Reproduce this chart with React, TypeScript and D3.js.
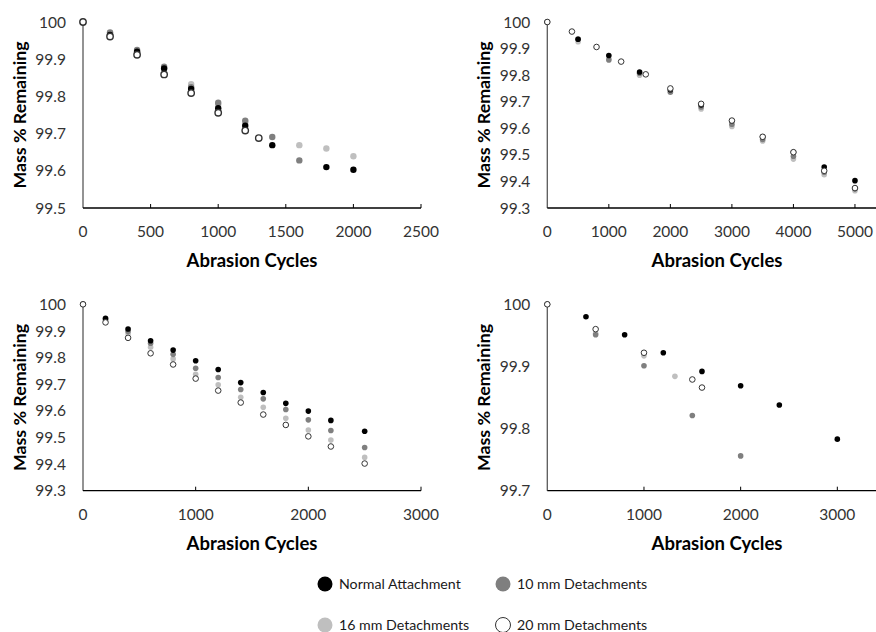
import React from "react";
import * as d3 from "d3";

// ---------- DATA ----------
const seriesNames = ["Normal Attachment", "10 mm Detachments", "16 mm Detachments", "20 mm Detachments"];

// Panel A (top-left)
const aNormal: [number, number][] = [[0, 100], [200, 99.965], [400, 99.92], [600, 99.875], [800, 99.82], [1000, 99.768], [1200, 99.721], [1400, 99.669], [1800, 99.61], [2000, 99.603]];
const a10: [number, number][] = [[0, 100], [200, 99.972], [400, 99.925], [600, 99.88], [800, 99.825], [1000, 99.783], [1200, 99.735], [1400, 99.691], [1600, 99.628]];
const a16: [number, number][] = [[0, 100], [200, 99.97], [400, 99.922], [600, 99.876], [800, 99.833], [1000, 99.778], [1200, 99.73], [1600, 99.669], [1800, 99.66], [2000, 99.639]];
const a20: [number, number][] = [[0, 100], [200, 99.961], [400, 99.912], [600, 99.859], [800, 99.809], [1000, 99.756], [1200, 99.708], [1300, 99.688]];

// Panel B (top-right)
const bNormal: [number, number][] = [[0, 100], [500, 99.935], [1000, 99.874], [1500, 99.812], [2000, 99.745], [2500, 99.688], [3000, 99.628], [3500, 99.568], [4000, 99.51], [4500, 99.454], [5000, 99.403]];
const b10: [number, number][] = [[0, 100], [500, 99.936], [1000, 99.857], [1500, 99.807], [2000, 99.736], [2500, 99.68], [3000, 99.615], [3500, 99.558], [4000, 99.495], [4500, 99.435], [5000, 99.372]];
const b16: [number, number][] = [[0, 100], [500, 99.926], [1000, 99.862], [1500, 99.8], [2000, 99.74], [2500, 99.673], [3000, 99.607], [3500, 99.552], [4000, 99.484], [4500, 99.425], [5000, 99.365]];
const b20: [number, number][] = [[0, 100], [400, 99.964], [800, 99.906], [1200, 99.851], [1600, 99.803], [2000, 99.75], [2500, 99.692], [3000, 99.629], [3500, 99.568], [4000, 99.51], [4500, 99.44], [5000, 99.375]];

// Panel C (bottom-left)
const cNormal: [number, number][] = [[0, 100], [200, 99.947], [400, 99.907], [600, 99.863], [800, 99.828], [1000, 99.788], [1200, 99.755], [1400, 99.706], [1600, 99.669], [1800, 99.628], [2000, 99.599], [2200, 99.564], [2500, 99.523]];
const c10: [number, number][] = [[0, 100], [200, 99.945], [400, 99.899], [600, 99.854], [800, 99.812], [1000, 99.76], [1200, 99.725], [1400, 99.68], [1600, 99.645], [1800, 99.605], [2000, 99.566], [2200, 99.526], [2500, 99.462]];
const c16: [number, number][] = [[0, 100], [200, 99.94], [400, 99.889], [600, 99.839], [800, 99.795], [1000, 99.737], [1200, 99.698], [1400, 99.651], [1600, 99.613], [1800, 99.572], [2000, 99.528], [2200, 99.49], [2500, 99.425]];
const c20: [number, number][] = [[0, 100], [200, 99.932], [400, 99.874], [600, 99.816], [800, 99.774], [1000, 99.721], [1200, 99.676], [1400, 99.631], [1600, 99.586], [1800, 99.547], [2000, 99.504], [2200, 99.466], [2500, 99.402]];

// Panel D (bottom-right)
const dNormal: [number, number][] = [[0, 100], [400, 99.98], [800, 99.951], [1200, 99.922], [1600, 99.892], [2000, 99.869], [2400, 99.838], [3000, 99.783]];
const d10: [number, number][] = [[0, 100], [500, 99.951], [1000, 99.901], [1500, 99.821], [2000, 99.756]];
const d16: [number, number][] = [[0, 100], [500, 99.953], [1000, 99.917], [1320, 99.884]];
const d20: [number, number][] = [[0, 100], [500, 99.96], [1000, 99.922], [1500, 99.879], [1600, 99.866]];

const aXTicks = [0, 500, 1000, 1500, 2000, 2500];
const aYTicks = [99.5, 99.6, 99.7, 99.8, 99.9, 100];
const bXTicks = [0, 1000, 2000, 3000, 4000, 5000];
const bYTicks = [99.3, 99.4, 99.5, 99.6, 99.7, 99.8, 99.9, 100];
const cXTicks = [0, 1000, 2000, 3000];
const cYTicks = [99.3, 99.4, 99.5, 99.6, 99.7, 99.8, 99.9, 100];
const dXTicks = [0, 1000, 2000, 3000];
const dYTicks = [99.7, 99.8, 99.9, 100];

const xTitle = "Abrasion Cycles";
const yTitle = "Mass % Remaining";

// ---------- STYLES ----------
const fills = ["#000000", "#7f7f7f", "#bfbfbf", "#ffffff"];
const strokes = ["#000000", "#7f7f7f", "#bfbfbf", "#333333"];
const drawOrder = [2, 1, 0, 3];
const FONT = "Lato, 'Open Sans', sans-serif";

type Panel = {
  series: [number, number][][];
  xDomain: [number, number];
  xRange: [number, number];
  yDomain: [number, number];
  yRange: [number, number];
  xTicks: number[];
  yTicks: number[];
  r: number;
  openStroke: number;
  yTitleX: number;
  xTitleX: number;
};

const panels: Panel[] = [
  { series: [aNormal, a10, a16, a20], xDomain: [0, 2500], xRange: [83, 421], yDomain: [99.5, 100], yRange: [208, 22], xTicks: aXTicks, yTicks: aYTicks, r: 3.2, openStroke: 1.4, yTitleX: 20, xTitleX: 252 },
  { series: [bNormal, b10, b16, b20], xDomain: [0, 6000], xRange: [547.3, 916.5], yDomain: [99.3, 100], yRange: [208, 22], xTicks: bXTicks, yTicks: bYTicks, r: 2.8, openStroke: 1, yTitleX: 484, xTitleX: 717 },
  { series: [cNormal, c10, c16, c20], xDomain: [0, 3000], xRange: [83, 421], yDomain: [99.3, 100], yRange: [490.7, 304.3], xTicks: cXTicks, yTicks: cYTicks, r: 2.8, openStroke: 1, yTitleX: 20, xTitleX: 252 },
  { series: [dNormal, d10, d16, d20], xDomain: [0, 4000], xRange: [547.3, 934], yDomain: [99.7, 100], yRange: [490.7, 304.3], xTicks: dXTicks, yTicks: dYTicks, r: 2.8, openStroke: 1, yTitleX: 484, xTitleX: 717 },
];

const fmtY = (v: number) => (v === 100 ? "100" : d3.format(".1f")(v));

function PanelView({ p }: { p: Panel }) {
  const x = d3.scaleLinear().domain(p.xDomain).range(p.xRange);
  const y = d3.scaleLinear().domain(p.yDomain).range(p.yRange);
  const x0 = p.xRange[0];
  const yBottom = p.yRange[0];
  const yTop = p.yRange[1];
  const labelX = x0 - 17;
  const plotMidY = (yTop + yBottom) / 2;
  return (
    <g>
      <line x1={x0} x2={x0} y1={yTop} y2={yBottom} stroke="#595959" strokeWidth={1.3} />
      <line x1={x0} x2={p.xRange[1]} y1={yBottom} y2={yBottom} stroke="#000" strokeWidth={1.3} />
      {p.xTicks.map((t) => (
        <g key={t}>
          {t !== 0 && <line x1={x(t)} x2={x(t)} y1={yBottom} y2={yBottom - 4} stroke="#000" strokeWidth={1} />}
          <text x={x(t)} y={yBottom + 29} textAnchor="middle" fontSize={15.5} fill="#333" fontFamily={FONT}>{t}</text>
        </g>
      ))}
      {p.yTicks.map((t) => (
        <text key={t} x={labelX} y={y(t)} dy="0.36em" textAnchor="end" fontSize={15.5} fill="#333" fontFamily={FONT}>{fmtY(t)}</text>
      ))}
      <text x={p.xTitleX} y={yBottom + 59} textAnchor="middle" fontSize={18.5} fontWeight="bold" fill="#000" fontFamily={FONT}>{xTitle}</text>
      <text transform={`translate(${p.yTitleX},${plotMidY}) rotate(-90)`} textAnchor="middle" dy="0.36em" fontSize={17.8} fontWeight="bold" fill="#000" fontFamily={FONT}>{yTitle}</text>
      {drawOrder.map((si) => (
        <g key={si}>
          {p.series[si].map(([cx, cy], i) => (
            <circle key={i} cx={x(cx)} cy={y(cy)} r={p.r} fill={fills[si]} stroke={strokes[si]} strokeWidth={si === 3 ? p.openStroke : 0} />
          ))}
        </g>
      ))}
    </g>
  );
}

export default function App() {
  const legendPos = [
    { cx: 325, cy: 584 },
    { cx: 503, cy: 584 },
    { cx: 325, cy: 625 },
    { cx: 503, cy: 625 },
  ];
  return (
    <div>
      <style>{`body{margin:0;}`}</style>
      <svg width={876} height={632} style={{ display: "block", background: "#fff" }}>
        <rect width={876} height={632} fill="#fff" />
        {panels.map((p, i) => (
          <PanelView key={i} p={p} />
        ))}
        {seriesNames.map((name, i) => (
          <g key={name}>
            <circle cx={legendPos[i].cx} cy={legendPos[i].cy} r={7.5} fill={fills[i]} stroke={strokes[i]} strokeWidth={i === 3 ? 1 : 0} />
            <text x={legendPos[i].cx + 14} y={legendPos[i].cy} dy="0.36em" fontSize={14.2} fill="#1a1a1a" fontFamily={FONT}>{name}</text>
          </g>
        ))}
      </svg>
    </div>
  );
}
